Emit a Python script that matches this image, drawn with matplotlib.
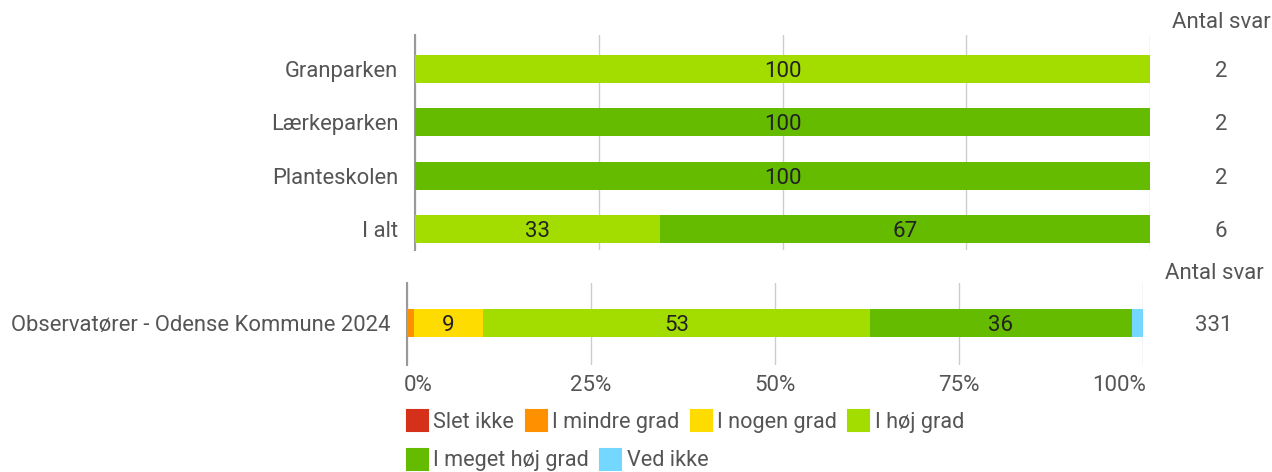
import matplotlib.pyplot as plt
from matplotlib.patches import Patch

plt.rcParams['font.family'] = ['Roboto', 'DejaVu Sans']

# categories and colours of the answers
answers = ["Slet ikke", "I mindre grad", "I nogen grad", "I høj grad",
           "I meget høj grad", "Ved ikke"]
colors = ["#d5311a", "#ff9100", "#ffdc00", "#a3dd00", "#64bb00", "#74d7ff"]

# top panel (shares in percent)
places = ["Granparken", "Lærkeparken", "Planteskolen", "I alt"]
top_values = [
    [0, 0, 0, 100, 0, 0],
    [0, 0, 0, 0, 100, 0],
    [0, 0, 0, 0, 100, 0],
    [0, 0, 0, 33.3, 66.7, 0],
]
top_counts = [2, 2, 2, 6]

# bottom panel
ref_label = ["Observatører - Odense Kommune 2024"]
ref_values = [[0, 0.9, 9.4, 52.6, 35.6, 1.5]]
ref_counts = [331]
tick_labels = ["0%", "25%", "50%", "75%", "100%"]

W, H = 1272, 472
fig = plt.figure(figsize=(W / 100, H / 100), dpi=100)

ax1 = fig.add_axes([415 / W, 1 - 250 / H, (1150 - 415) / W, (250 - 35) / H])
ax2 = fig.add_axes([407 / W, 1 - 365 / H, (1143 - 407) / W, (365 - 283) / H])

txt = "#555555"
fs = 15.8


def draw(ax, labels, values, counts, ylim, count_x):
    for i, row in enumerate(values):
        left = 0
        for j, v in enumerate(row):
            if v > 0:
                ax.barh(i, v, left=left, height=0.53, color=colors[j], zorder=3)
                if v >= 5:
                    ax.text(left + v / 2, i, f"{v:.0f}", ha="center",
                            va="center_baseline", fontsize=16, color="#222222",
                            zorder=4)
            left += v
        ax.text(count_x, i, str(counts[i]), transform=ax.get_yaxis_transform(),
                ha="center", va="center_baseline", fontsize=16, color=txt)
    ax.set_xlim(0, 100)
    ax.set_ylim(*ylim)
    ax.set_yticks(range(len(labels)))
    ax.set_yticklabels(labels, fontsize=fs, color=txt)
    ax.set_xticks([0, 25, 50, 75, 100])
    ax.set_xticklabels([])
    ax.grid(axis="x", color="#cccccc", linewidth=1, zorder=0)
    for s in ["top", "right", "bottom"]:
        ax.spines[s].set_visible(False)
    ax.spines["left"].set_color("#999999")
    ax.spines["left"].set_linewidth(1.5)
    ax.tick_params(axis="y", length=0, pad=12)
    ax.tick_params(axis="x", length=0)


u1 = 53.3
draw(ax1, places, top_values, top_counts,
     (3 + (250 - 229) / u1, -(69 - 35) / u1), (1221 - 415) / (1150 - 415))
u2 = 52.8
draw(ax2, ref_label, ref_values, ref_counts,
     ((365 - 323) / u2, -(323 - 283) / u2), (1214 - 407) / (1143 - 407))

# percent labels, the outer ones kept inside the axis ends
for k, lab in enumerate(tick_labels):
    x, ha = k * 25, "center"
    if k == 0:
        x, ha = -0.5, "left"
    elif k == len(tick_labels) - 1:
        x, ha = 100.4, "right"
    fig.text((407 + x / 100 * (1143 - 407)) / W, 1 - 383 / H, lab, ha=ha,
             va="center_baseline", fontsize=16, color=txt)

fig.text(1221 / W, 1 - 20 / H, "Antal svar", ha="center", va="center_baseline",
         fontsize=16, color=txt)
fig.text(1214 / W, 1 - 271 / H, "Antal svar", ha="center", va="center_baseline",
         fontsize=16, color=txt)

handles = [Patch(facecolor=c, edgecolor=c, linewidth=1.5, joinstyle="round",
                 label=a) for a, c in zip(answers, colors)]
leg_kw = dict(frameon=False, fontsize=15.6, handlelength=0.97, handleheight=1.12,
              handletextpad=0.25, columnspacing=0.52, labelcolor=txt,
              borderaxespad=0, borderpad=0)
fig.legend(handles=handles[:4], loc="center left",
           bbox_to_anchor=(407 / W, 1 - 421.5 / H), ncol=4, **leg_kw)
fig.legend(handles=handles[4:], loc="center left",
           bbox_to_anchor=(407 / W, 1 - 460 / H), ncol=2, **leg_kw)

fig.savefig("out.png", dpi=100)
